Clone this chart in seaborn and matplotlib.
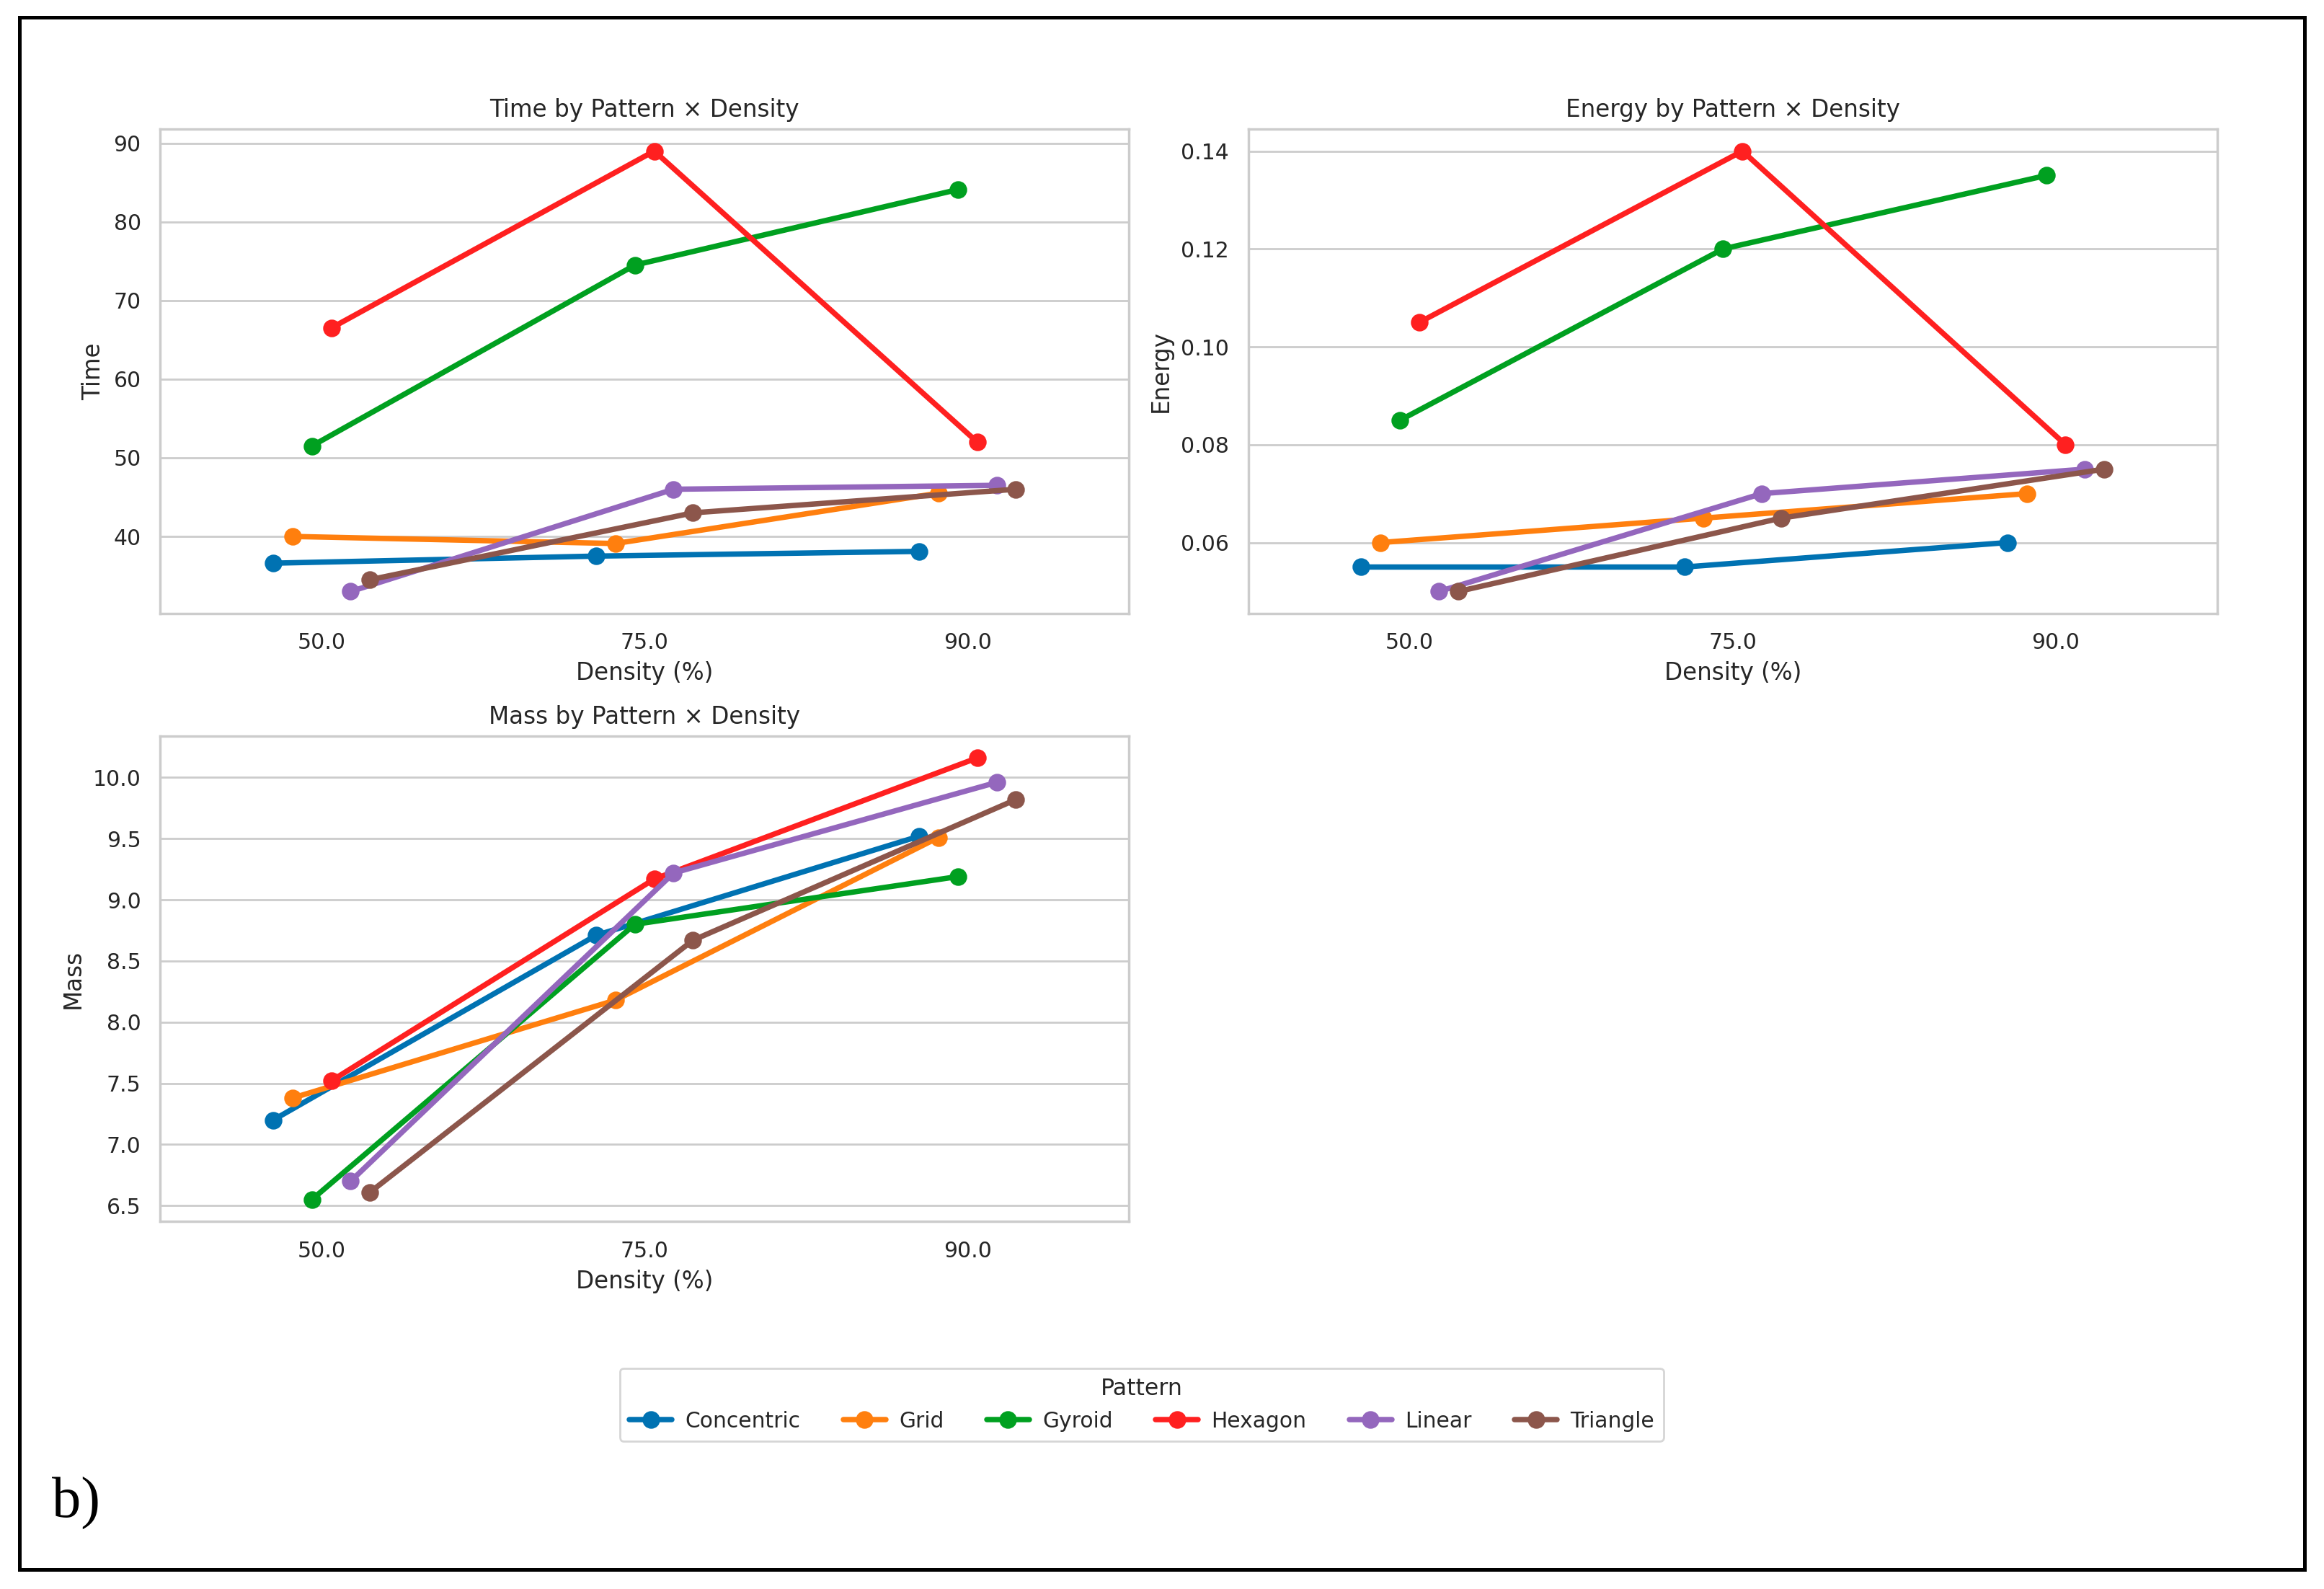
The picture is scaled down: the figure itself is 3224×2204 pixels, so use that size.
import matplotlib
matplotlib.use("Agg")
import matplotlib.pyplot as plt
from matplotlib.patches import Rectangle
import seaborn as sns
import pandas as pd

# ---------------- data ----------------
densities = [50.0, 75.0, 90.0]
patterns = ["Concentric", "Grid", "Gyroid", "Hexagon", "Linear", "Triangle"]
colors = ["#0072B2", "#FF7F0E", "#00A020", "#FF2020", "#9467BD", "#8C564B"]

# rows follow `patterns`, columns follow `densities`
time_vals = [
    [36.6, 37.5, 38.1],
    [40.0, 39.1, 45.5],
    [51.5, 74.5, 84.1],
    [66.5, 89.0, 52.0],
    [33.0, 46.0, 46.5],
    [34.5, 43.0, 46.0],
]
energy_vals = [
    [0.055, 0.055, 0.060],
    [0.060, 0.065, 0.070],
    [0.085, 0.120, 0.135],
    [0.105, 0.140, 0.080],
    [0.050, 0.070, 0.075],
    [0.050, 0.065, 0.075],
]
mass_vals = [
    [7.20, 8.71, 9.52],
    [7.38, 8.18, 9.51],
    [6.55, 8.80, 9.19],
    [7.52, 9.17, 10.16],
    [6.70, 9.22, 9.96],
    [6.61, 8.67, 9.82],
]

rows = []
for i, p in enumerate(patterns):
    for j, d in enumerate(densities):
        rows.append({"Pattern": p, "Density": d,
                     "Time": time_vals[i][j],
                     "Energy": energy_vals[i][j],
                     "Mass": mass_vals[i][j]})
df = pd.DataFrame(rows)

# ---------------- figure ----------------
sns.set_theme(style="whitegrid", font_scale=0.98)
plt.rcParams["font.family"] = ["DejaVu Sans"]

W, H, DPI = 3224, 2204, 200
fig = plt.figure(figsize=(W / DPI, H / DPI), dpi=DPI)

ax1 = fig.add_axes([0.0689, 0.6139, 0.4169, 0.3049])
ax2 = fig.add_axes([0.5371, 0.6139, 0.4170, 0.3049])
ax3 = fig.add_axes([0.0689, 0.2312, 0.4169, 0.3057])

specs = [(ax1, "Time"), (ax2, "Energy"), (ax3, "Mass")]
handles, labels = None, None
for ax, metric in specs:
    sns.pointplot(data=df, x="Density", y=metric, hue="Pattern",
                  order=densities, hue_order=patterns, palette=colors,
                  dodge=0.3, errorbar=None, ax=ax)
    ax.set_title(f"{metric} by Pattern \u00d7 Density")
    ax.set_xlabel("Density (%)")
    ax.set_ylabel(metric)
    if handles is None:
        handles, labels = ax.get_legend_handles_labels()
    if ax.get_legend() is not None:
        ax.get_legend().remove()

ax1.set_yticks([40, 50, 60, 70, 80, 90])
ax2.set_yticks([0.06, 0.08, 0.10, 0.12, 0.14])
ax2.set_yticklabels(["0.06", "0.08", "0.10", "0.12", "0.14"])
ax3.set_yticks([6.5, 7.0, 7.5, 8.0, 8.5, 9.0, 9.5, 10.0])

fig.legend(handles, labels, title="Pattern", ncol=6,
           loc="lower center", bbox_to_anchor=(0.4913, 0.0862),
           frameon=True, columnspacing=2.0, handlelength=2.0,
           handletextpad=0.6, borderpad=0.45,
           fontsize=10.7, title_fontsize=11.4)

# outer frame and panel label
fig.add_artist(Rectangle((0.0084, 0.0123), 0.9832, 0.9767,
                         transform=fig.transFigure, fill=False,
                         edgecolor="black", linewidth=1.8))
fig.text(0.0223, 0.0449, "b)", family=["Liberation Serif"],
         fontsize=29, color="black", ha="left", va="baseline")

fig.savefig("out.png", dpi=DPI)
